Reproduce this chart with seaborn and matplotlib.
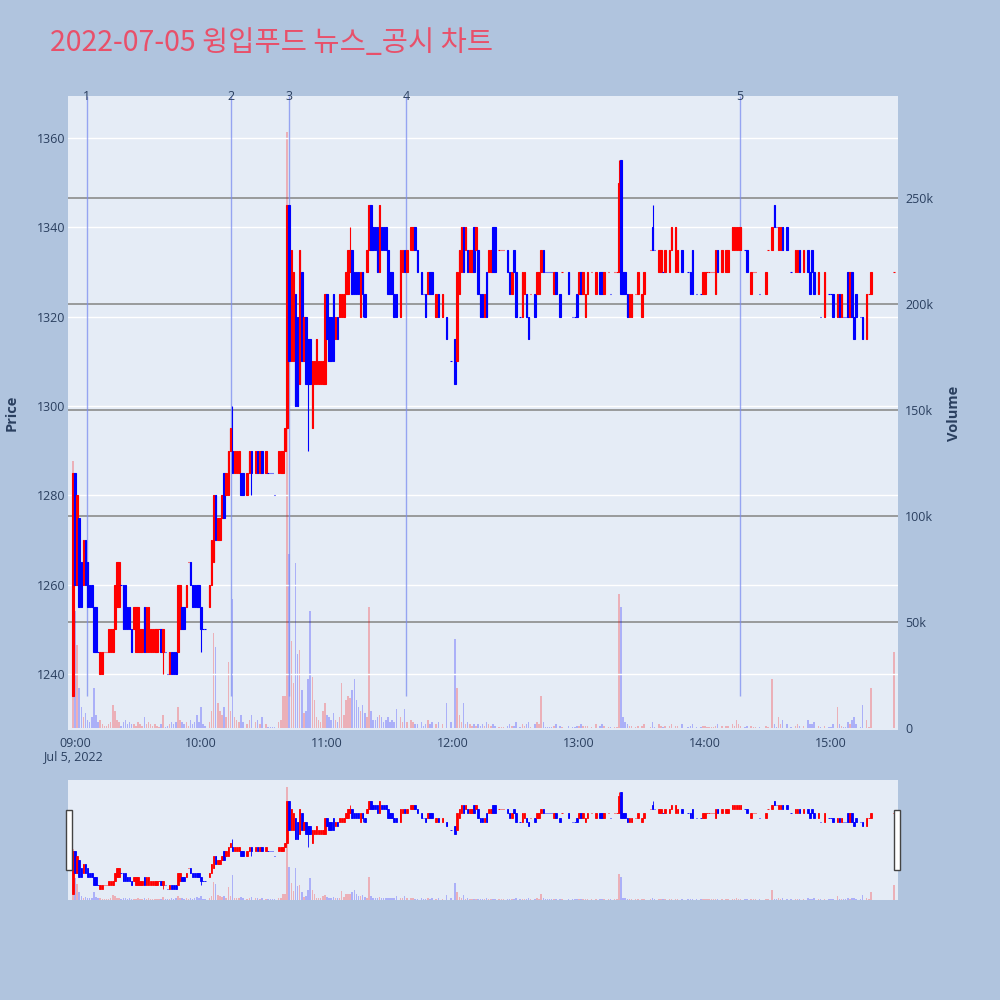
"""Intraday candlestick chart with volume and news markers."""
import matplotlib
matplotlib.use("Agg")
import matplotlib.pyplot as plt
from matplotlib.patches import Rectangle
from matplotlib.transforms import blended_transform_factory
import numpy as np
import seaborn as sns

sns.set_theme(style="darkgrid")
plt.rcParams['font.family'] = ['Open Sans', 'Noto Sans CJK KR', 'DejaVu Sans']

TITLE = "2022-07-05 윙입푸드 뉴스_공시 차트"

# minutes after 09:00 for each 1-minute candle
minutes = [
    -1, 0, 1, 2, 3, 4, 5, 6, 7, 8,
    9, 10, 11, 12, 13, 14, 15, 16, 17, 18,
    19, 20, 21, 22, 23, 24, 25, 26, 27, 28,
    29, 30, 31, 32, 33, 34, 35, 36, 37, 38,
    39, 40, 41, 42, 43, 44, 45, 46, 47, 48,
    49, 50, 51, 52, 53, 54, 55, 56, 57, 58,
    59, 60, 61, 62, 64, 65, 66, 67, 68, 69,
    70, 71, 72, 73, 74, 75, 76, 77, 78, 79,
    80, 82, 83, 84, 86, 87, 88, 89, 91, 92,
    93, 94, 95, 97, 98, 99, 100, 101, 102, 103,
    104, 105, 106, 107, 108, 109, 110, 111, 112, 113,
    114, 115, 116, 117, 118, 119, 120, 121, 122, 123,
    124, 125, 126, 127, 128, 129, 130, 131, 132, 133,
    134, 135, 136, 137, 138, 139, 140, 141, 142, 143,
    144, 145, 146, 147, 148, 149, 150, 151, 152, 153,
    155, 156, 157, 158, 160, 161, 162, 163, 165, 166,
    167, 168, 169, 170, 172, 173, 175, 177, 179, 181,
    182, 183, 184, 185, 186, 187, 188, 189, 190, 191,
    192, 193, 194, 195, 196, 197, 198, 199, 200, 202,
    203, 204, 206, 207, 208, 209, 210, 212, 213, 214,
    215, 216, 217, 219, 220, 221, 222, 223, 224, 225,
    226, 227, 228, 229, 231, 232, 235, 237, 238, 239,
    240, 241, 242, 243, 244, 246, 248, 250, 251, 252,
    254, 255, 257, 258, 259, 260, 261, 262, 263, 264,
    265, 267, 268, 270, 271, 274, 275, 276, 278, 279,
    280, 281, 283, 284, 286, 287, 289, 292, 293, 294,
    296, 298, 299, 300, 301, 302, 303, 304, 305, 306,
    308, 310, 311, 313, 314, 315, 316, 317, 319, 320,
    322, 323, 324, 326, 329, 330, 332, 333, 334, 335,
    336, 337, 339, 341, 343, 344, 345, 347, 349, 350,
    351, 352, 354, 355, 357, 359, 360, 361, 363, 364,
    365, 366, 367, 368, 369, 370, 371, 372, 374, 375,
    377, 378, 379, 390,
]

opens = [
    1235, 1285, 1260, 1275, 1265, 1260, 1270, 1265, 1260, 1260,
    1255, 1255, 1245, 1240, 1240, 1245, 1245, 1245, 1245, 1245,
    1250, 1255, 1255, 1260, 1260, 1260, 1255, 1255, 1250, 1250,
    1245, 1245, 1245, 1245, 1255, 1245, 1245, 1245, 1245, 1245,
    1245, 1250, 1250, 1245, 1245, 1240, 1240, 1245, 1245, 1245,
    1245, 1250, 1255, 1255, 1255, 1265, 1265, 1260, 1260, 1260,
    1260, 1255, 1250, 1250, 1255, 1260, 1265, 1280, 1270, 1270,
    1275, 1285, 1280, 1280, 1290, 1290, 1285, 1285, 1285, 1285,
    1285, 1280, 1285, 1290, 1285, 1290, 1285, 1290, 1285, 1285,
    1285, 1285, 1280, 1285, 1285, 1285, 1290, 1295, 1345, 1310,
    1310, 1325, 1320, 1305, 1330, 1310, 1320, 1315, 1315, 1295,
    1305, 1305, 1305, 1305, 1305, 1305, 1325, 1320, 1320, 1325,
    1315, 1320, 1320, 1320, 1320, 1325, 1325, 1330, 1335, 1330,
    1330, 1330, 1320, 1330, 1325, 1330, 1335, 1345, 1340, 1340,
    1340, 1330, 1340, 1340, 1340, 1335, 1330, 1330, 1325, 1325,
    1320, 1330, 1335, 1330, 1335, 1335, 1340, 1335, 1330, 1325,
    1325, 1325, 1330, 1330, 1320, 1325, 1320, 1320, 1310, 1315,
    1310, 1325, 1330, 1340, 1335, 1335, 1330, 1330, 1340, 1335,
    1335, 1325, 1325, 1320, 1330, 1330, 1330, 1340, 1340, 1335,
    1335, 1335, 1335, 1330, 1325, 1335, 1330, 1320, 1320, 1325,
    1325, 1320, 1325, 1325, 1325, 1325, 1330, 1335, 1330, 1330,
    1330, 1330, 1325, 1330, 1325, 1330, 1330, 1320, 1320, 1325,
    1325, 1330, 1325, 1320, 1325, 1330, 1325, 1330, 1330, 1325,
    1330, 1325, 1330, 1330, 1330, 1355, 1330, 1330, 1325, 1320,
    1320, 1325, 1325, 1320, 1325, 1335, 1340, 1335, 1330, 1330,
    1330, 1330, 1330, 1335, 1330, 1330, 1335, 1330, 1330, 1335,
    1325, 1325, 1325, 1325, 1330, 1330, 1330, 1330, 1325, 1335,
    1330, 1330, 1330, 1335, 1335, 1335, 1335, 1335, 1335, 1335,
    1325, 1330, 1330, 1325, 1325, 1335, 1335, 1345, 1340, 1335,
    1335, 1340, 1340, 1330, 1330, 1330, 1335, 1330, 1335, 1330,
    1335, 1330, 1325, 1320, 1320, 1325, 1325, 1325, 1320, 1325,
    1320, 1320, 1320, 1330, 1320, 1330, 1320, 1325, 1320, 1320,
    1315, 1325, 1325, 1330,
]

closes = [
    1285, 1260, 1280, 1255, 1255, 1270, 1260, 1255, 1255, 1255,
    1245, 1245, 1245, 1245, 1245, 1245, 1245, 1250, 1250, 1250,
    1260, 1265, 1265, 1260, 1250, 1250, 1250, 1250, 1245, 1255,
    1255, 1255, 1250, 1250, 1245, 1255, 1255, 1250, 1250, 1250,
    1250, 1250, 1245, 1250, 1245, 1240, 1245, 1240, 1240, 1240,
    1260, 1260, 1250, 1250, 1260, 1265, 1260, 1255, 1255, 1255,
    1255, 1250, 1250, 1250, 1260, 1270, 1280, 1270, 1275, 1275,
    1280, 1275, 1285, 1290, 1295, 1285, 1290, 1290, 1290, 1280,
    1280, 1285, 1290, 1285, 1290, 1285, 1290, 1285, 1290, 1285,
    1285, 1285, 1280, 1290, 1290, 1290, 1295, 1345, 1310, 1335,
    1330, 1300, 1300, 1335, 1310, 1320, 1305, 1305, 1305, 1310,
    1310, 1315, 1310, 1310, 1310, 1325, 1315, 1310, 1310, 1310,
    1320, 1315, 1325, 1325, 1325, 1330, 1335, 1335, 1325, 1325,
    1325, 1325, 1330, 1325, 1320, 1335, 1345, 1335, 1335, 1335,
    1330, 1345, 1335, 1335, 1335, 1325, 1325, 1325, 1320, 1320,
    1335, 1335, 1330, 1335, 1340, 1340, 1335, 1330, 1325, 1325,
    1320, 1330, 1325, 1325, 1325, 1320, 1325, 1315, 1310, 1305,
    1330, 1335, 1340, 1330, 1340, 1330, 1335, 1335, 1330, 1340,
    1325, 1320, 1320, 1325, 1320, 1335, 1335, 1330, 1330, 1335,
    1335, 1335, 1330, 1325, 1330, 1330, 1320, 1320, 1330, 1330,
    1320, 1315, 1325, 1320, 1330, 1330, 1335, 1330, 1330, 1330,
    1330, 1330, 1330, 1325, 1320, 1330, 1325, 1320, 1320, 1320,
    1330, 1325, 1330, 1325, 1330, 1330, 1330, 1325, 1325, 1330,
    1330, 1325, 1330, 1330, 1350, 1325, 1325, 1325, 1320, 1325,
    1325, 1325, 1330, 1325, 1330, 1335, 1335, 1335, 1335, 1335,
    1330, 1335, 1335, 1340, 1340, 1335, 1330, 1330, 1325, 1325,
    1325, 1325, 1330, 1330, 1330, 1330, 1330, 1330, 1335, 1330,
    1335, 1335, 1335, 1340, 1340, 1340, 1340, 1340, 1335, 1330,
    1330, 1330, 1330, 1325, 1330, 1335, 1340, 1340, 1340, 1340,
    1340, 1335, 1335, 1330, 1335, 1335, 1330, 1335, 1330, 1325,
    1330, 1325, 1330, 1320, 1330, 1325, 1325, 1320, 1325, 1320,
    1325, 1320, 1320, 1320, 1330, 1320, 1315, 1320, 1320, 1315,
    1325, 1325, 1330, 1330,
]

volumes = [
    126000, 55000, 39000, 19000, 10000, 5000, 7000, 4000, 3000, 5000,
    19000, 6000, 3000, 4000, 2000, 1000, 1000, 2000, 3000, 11000,
    8000, 4000, 3000, 1000, 3000, 4000, 2000, 3000, 2000, 2000,
    1000, 3000, 2000, 1000, 5000, 2000, 3000, 2000, 1000, 2000,
    1000, 500, 2000, 6000, 500, 1000, 2000, 3000, 2000, 3000,
    10000, 4000, 3000, 2000, 3000, 1000, 4000, 2000, 3000, 6000,
    3000, 10000, 2000, 1000, 3000, 8000, 45000, 38000, 12000, 8000,
    6000, 10000, 5000, 31000, 8000, 61000, 5000, 4000, 3000, 6000,
    3000, 2000, 4000, 6000, 3000, 4000, 2000, 5000, 2000, 500,
    500, 500, 500, 3000, 4000, 15000, 15000, 281000, 82000, 41000,
    21000, 78000, 35000, 37000, 18000, 7000, 8000, 23000, 55000, 24000,
    13000, 5000, 4000, 3000, 8000, 12000, 6000, 5000, 4000, 7000,
    4000, 3000, 5000, 21000, 6000, 13000, 15000, 14000, 18000, 23000,
    13000, 10000, 8000, 11000, 7000, 5000, 57000, 8000, 4000, 4000,
    5000, 6000, 5000, 3000, 4000, 5000, 3000, 4000, 3000, 9000,
    5000, 3000, 9000, 3000, 4000, 3000, 2000, 2000, 3000, 1000,
    2000, 4000, 2000, 3000, 2000, 3000, 2000, 12000, 3000, 42000,
    19000, 6000, 3000, 12000, 2000, 3000, 2000, 1000, 2000, 1000,
    2000, 1000, 2000, 1000, 3000, 2000, 1000, 2000, 1000, 500,
    500, 500, 1000, 2000, 1000, 1000, 3000, 500, 2000, 1000,
    2000, 3000, 500, 2000, 3000, 2000, 15000, 3000, 500, 500,
    500, 500, 1000, 2000, 1000, 500, 1000, 500, 500, 1000,
    1000, 2000, 1000, 1000, 1000, 500, 2000, 1000, 2000, 1000,
    500, 500, 500, 500, 63000, 57000, 5000, 3000, 2000, 1000,
    1000, 500, 1000, 1000, 2000, 500, 3000, 500, 2000, 1000,
    500, 1000, 1000, 2000, 1000, 1000, 2000, 500, 1000, 2000,
    500, 500, 1000, 1000, 500, 500, 500, 500, 1000, 2000,
    1000, 1000, 1000, 2000, 1000, 4000, 2000, 1000, 500, 1000,
    1000, 500, 500, 500, 1000, 500, 23000, 2000, 500, 5000,
    2000, 4000, 2000, 500, 1000, 2000, 1000, 1000, 4000, 2000,
    2000, 3000, 1000, 500, 1000, 500, 500, 2000, 10000, 2000,
    1000, 500, 500, 3000, 2000, 4000, 5000, 2000, 500, 11000,
    4000, 500, 19000, 36000,
]

# wicks that reach past the candle body
wick_high = {75: 1300, 131: 1340, 259: 1355, 275: 1345}
wick_low = {42: 1240, 60: 1245, 84: 1280, 111: 1290, 137: 1320}

# news / disclosure markers
news_minutes = [5.7, 74.3, 101.9, 157.6, 316.7]
news_labels = ["1", "2", "3", "4", "5"]

hour_ticks = [0, 60, 120, 180, 240, 300, 360]
hour_labels = ["09:00", "10:00", "11:00", "12:00", "13:00", "14:00", "15:00"]
vol_ticks = [0, 50000, 100000, 150000, 200000, 250000]
vol_labels = ["0", "50k", "100k", "150k", "200k", "250k"]

assert len(minutes) == len(opens) == len(closes) == len(volumes)

UP, DOWN = "#ff0000", "#0000ff"
FIG_BG, PLOT_BG, TXT = "#B0C4DE", "#E5ECF6", "#2a3f5f"
XLIM = (-3.33, 391.9)
PLIM = (1227.5, 1369.4)
VLIM = (-943, 298100)

# candle direction: close vs open, ties fall back on previous close
up = []
prev_c, prev_up = None, True
for o, c in zip(opens, closes):
    if c != o:
        u = c > o
    elif prev_c is not None and c != prev_c:
        u = c > prev_c
    else:
        u = prev_up
    up.append(u)
    prev_c, prev_up = c, u

x = np.array(minutes, dtype=float)
o_arr = np.array(opens, dtype=float)
c_arr = np.array(closes, dtype=float)
hi = np.array([max(o, c, wick_high.get(t, 0)) for t, o, c in zip(minutes, opens, closes)])
lo = np.array([min(o, c, wick_low.get(t, 9999)) for t, o, c in zip(minutes, opens, closes)])
cols = [UP if u else DOWN for u in up]
vcols = [(1, 0, 0, 0.25) if u else (0, 0, 1, 0.25) for u in up]


def draw(ax_p, ax_v, lw):
    ax_v.bar(x, volumes, width=0.7, color=vcols, linewidth=0, zorder=2)
    ax_p.vlines(x, lo, hi, colors=cols, linewidth=lw, zorder=3)
    ax_p.bar(x, np.abs(c_arr - o_arr), bottom=np.minimum(o_arr, c_arr), width=0.75,
             color=cols, edgecolor=cols, linewidth=lw, zorder=3)
    ax_p.set_xlim(*XLIM); ax_v.set_xlim(*XLIM)
    ax_p.set_ylim(*PLIM); ax_v.set_ylim(*VLIM)
    # volume axes sits underneath and carries the plot background
    ax_v.set_zorder(1)
    ax_p.set_zorder(2)
    ax_p.patch.set_visible(False)
    ax_v.patch.set_visible(True)
    ax_v.patch.set_facecolor(PLOT_BG)
    for a in (ax_p, ax_v):
        for s in a.spines.values():
            s.set_visible(False)


fig = plt.figure(figsize=(10, 10), dpi=100)
fig.patch.set_facecolor(FIG_BG)

# main chart
ax = fig.add_axes([0.068, 0.270, 0.830, 0.634])
axv = ax.twinx()
draw(ax, axv, 0.8)

ax.set_yticks([1240, 1260, 1280, 1300, 1320, 1340, 1360])
ax.grid(axis="y", color="white", linewidth=1)
ax.grid(axis="x", visible=False)
ax.set_xticks(hour_ticks)
ax.set_xticklabels(hour_labels)
ax.tick_params(axis="both", length=0, labelsize=9, labelcolor=TXT)
ax.tick_params(axis="y", pad=2)
ax.tick_params(axis="x", pad=5)
ax.set_ylabel("Price", fontsize=10.5, fontweight="bold", color=TXT)
ax.yaxis.set_label_coords(-0.060, 0.5)

axv.set_yticks(vol_ticks)
axv.set_yticklabels(vol_labels)
axv.grid(axis="y", color="#8c8c8c", linewidth=1.2)
axv.grid(axis="x", visible=False)
axv.tick_params(axis="y", length=0, labelsize=9, labelcolor=TXT, pad=5)
axv.set_ylabel("Volume", fontsize=10.5, fontweight="bold", color=TXT)
axv.yaxis.set_label_coords(1.059, 0.5)
for gl in axv.get_ygridlines()[:1]:
    gl.set_visible(False)

trans = blended_transform_factory(ax.transData, ax.transAxes)
for xm, lab in zip(news_minutes, news_labels):
    ax.vlines(xm, 1235, PLIM[1], color="#7b8cf0", linewidth=1, alpha=0.75, zorder=1)
    ax.text(xm, 1.0, lab, transform=trans, ha="center", va="center",
            fontsize=9, color=TXT, clip_on=False)

fig.text(0.073, 0.243, "Jul 5, 2022", ha="center", va="center", fontsize=9, color=TXT)

# range slider
axs = fig.add_axes([0.068, 0.100, 0.830, 0.120])
axsv = axs.twinx()
draw(axs, axsv, 0.6)
for a in (axs, axsv):
    a.set_xticks([]); a.set_yticks([])
    a.grid(False)
for hx in (0.066, 0.894):
    fig.add_artist(Rectangle((hx, 0.130), 0.006, 0.060, transform=fig.transFigure,
                             facecolor="white", edgecolor="#444444", linewidth=1,
                             zorder=5))

fig.text(0.05, 0.949, TITLE, fontsize=20.5, color="#E8506A", ha="left", va="baseline",
         family=["Noto Sans CJK KR", "DejaVu Sans"])

fig.savefig("out.png", dpi=100, facecolor=FIG_BG)
plt.close(fig)
